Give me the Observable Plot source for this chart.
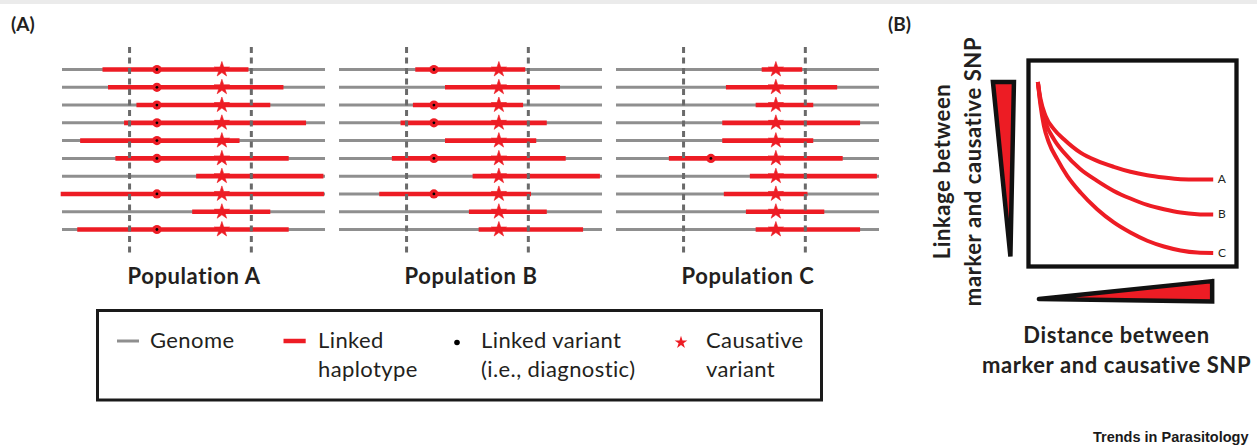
<!DOCTYPE html>
<html>
<head>
<meta charset="utf-8">
<script src="https://cdn.jsdelivr.net/npm/d3@7"></script>
<script src="https://cdn.jsdelivr.net/npm/@observablehq/plot@0.6"></script>
<style>
html, body { margin: 0; padding: 0; background: #fff; }
#fig { position: relative; width: 1257px; height: 446px; overflow: hidden; font-family: Lato, "Open Sans", sans-serif; color: #231f20; }
#topband { position: absolute; left: 0; top: 0; width: 1257px; height: 4px; background: #ebebeb; }
.panel { position: absolute; top: 0; }
#overlay { position: absolute; left: 0; top: 0; pointer-events: none; }
</style>
</head>
<body>
<div id="fig">
  <div id="topband"></div>
  <div id="panelA" class="panel" style="left:0px"></div>
  <div id="panelB" class="panel" style="left:880px"></div>
</div>
<script>
// ---------------- Panel A data (genome coordinate 0–100 per population) ----------------
const populations = ["A", "B", "C"];
const rowIds = [1, 2, 3, 4, 5, 6, 7, 8, 9, 10];
const genomeExtent = [0, 100];
const markerWindow = [25.5, 71.8];          // dashed lines
const linkedVariantPosition = 35.9;         // black-centred dot
const causativePosition = 60.6;             // star

const haplotypeStartA = [15.4, 17.5, 28.3, 23.6, 6.9, 20.3, 51.0, -0.5, 49.5, 5.8];
const haplotypeEndA   = [70.9, 84.2, 79.2, 92.8, 67.5, 86.2, 99.4, 99.6, 79.2, 86.2];
const linkedA         = [1, 1, 1, 1, 1, 1, 0, 1, 0, 1];

const haplotypeStartB = [29.0, 40.3, 28.1, 23.4, 40.3, 20.1, 50.8, 15.3, 49.4, 53.1];
const haplotypeEndB   = [70.8, 84.0, 70.0, 79.0, 75.0, 86.2, 99.2, 73.0, 79.0, 92.8];
const linkedB         = [1, 0, 1, 1, 0, 1, 0, 1, 0, 0];

const haplotypeStartC = [55.4, 41.8, 53.1, 40.4, 40.4, 20.1, 50.9, 41.0, 49.4, 53.1];
const haplotypeEndC   = [70.8, 84.1, 75.0, 92.8, 75.0, 86.2, 99.2, 72.8, 79.2, 92.8];
const linkedC         = [0, 0, 0, 0, 0, 1, 0, 0, 0, 0];

// ---------------- Panel B data (distance / linkage, 0–100 inside frame) ----------------
const curveNames = ["A", "B", "C"];
const distanceA = [4.5, 5.8, 8.2, 12.2, 17.0, 25.0, 33.0, 41.0, 49.0, 57.1, 65.1, 73.1, 81.1, 88.8];
const linkageA  = [89.6, 81.2, 73.1, 66.7, 61.8, 55.3, 51.3, 48.4, 46.0, 44.3, 43.2, 42.4, 42.2, 42.2];
const distanceB = [4.5, 5.8, 8.2, 12.2, 17.0, 25.0, 33.0, 41.0, 49.0, 57.1, 65.1, 73.1, 81.1, 88.8];
const linkageB  = [89.6, 79.6, 69.9, 61.8, 55.3, 47.2, 41.6, 36.7, 33.0, 29.9, 27.8, 26.2, 25.4, 25.2];
const distanceC = [4.5, 5.8, 7.4, 9.8, 13.8, 18.6, 25.0, 33.0, 41.0, 49.0, 57.1, 65.1, 73.1, 81.1, 88.8];
const linkageC  = [89.6, 78.0, 68.3, 60.2, 52.1, 44.0, 35.9, 27.8, 21.4, 16.5, 12.5, 9.7, 7.8, 6.8, 6.6];

const linkageWedgeX  = [-17.1, -7.0, -8.7, -17.1, -7.0];
const linkageWedgeY  = [89.6, 89.6, 4.9, 89.6, 89.6];
const distanceWedgeX = [5.0, 88.3, 88.3, 5.0, 88.3];
const distanceWedgeY = [-15.8, -7.1, -17.0, -15.8, -7.1];

// ---------------- Legend text ----------------
const legendLabels = [["Genome"], ["Linked", "haplotype"], ["Linked variant", "(i.e., diagnostic)"], ["Causative", "variant"]];

const RED = "#ed1c24", GREY = "#8f8f8f", DASH = "#6a6a6a", INK = "#231f20";

// ---------------- build tables ----------------
const starts = [haplotypeStartA, haplotypeStartB, haplotypeStartC];
const ends = [haplotypeEndA, haplotypeEndB, haplotypeEndC];
const linked = [linkedA, linkedB, linkedC];
const haplotypes = populations.flatMap((p, i) => rowIds.map((r, j) => ({
  pop: p, row: r, start: starts[i][j], end: ends[i][j], linked: linked[i][j]
})));

const curveDist = [distanceA, distanceB, distanceC];
const curveLink = [linkageA, linkageB, linkageC];
const curvePoints = curveNames.flatMap((c, i) => curveDist[i].map((d, j) => ({curve: c, distance: d, linkage: curveLink[i][j]})));
const linkageWedge = linkageWedgeX.map((x, i) => ({x, y: linkageWedgeY[i]}));
const distanceWedge = distanceWedgeX.map((x, i) => ({x, y: distanceWedgeY[i]}));

const baseStyle = {fontFamily: "Lato, 'Open Sans', sans-serif", color: INK, background: "transparent", overflow: "visible", letterSpacing: "0.6px"};

// ---------------- Panel A ----------------
const plotA = Plot.plot({
  width: 890, height: 300,
  marginLeft: 61, marginRight: 9, marginTop: 47, marginBottom: 47,
  style: baseStyle,
  x: {domain: [0, 100], axis: null},
  y: {domain: [1, 10], reverse: true, insetTop: 22, insetBottom: 24, axis: null},
  fx: {domain: populations, paddingInner: 0.05, paddingOuter: 0, axis: null},
  marks: [
    Plot.ruleY(haplotypes, {fx: "pop", y: "row", x1: () => genomeExtent[0], x2: () => genomeExtent[1], stroke: GREY, strokeWidth: 3}),
    Plot.ruleY(haplotypes, {fx: "pop", y: "row", x1: "start", x2: "end", stroke: RED, strokeWidth: 4.6}),
    Plot.ruleX(markerWindow, {x: d => d, stroke: DASH, strokeWidth: 3, strokeDasharray: "6,4.5"}),
    Plot.dot(haplotypes.filter(d => d.linked), {fx: "pop", x: () => linkedVariantPosition, y: "row", r: 4.6, fill: RED}),
    Plot.dot(haplotypes.filter(d => d.linked), {fx: "pop", x: () => linkedVariantPosition, y: "row", r: 1.4, fill: "#000"}),
    Plot.dot(haplotypes, {fx: "pop", x: () => causativePosition, y: "row", symbol: "star", r: 4.8, fill: RED, stroke: RED, strokeWidth: 0.6}),
    Plot.text(populations, {fx: d => d, text: d => "Population " + d, frameAnchor: "bottom", lineAnchor: "top", dy: 14.5, fontSize: 22, fontWeight: "bold", fill: INK})
  ]
});
document.getElementById("panelA").appendChild(plotA);

// ---------------- Panel B ----------------
const plotB = Plot.plot({
  width: 377, height: 400,
  marginLeft: 148, marginRight: 21, marginTop: 60, marginBottom: 134,
  style: baseStyle,
  x: {domain: [0, 100], axis: null},
  y: {domain: [0, 100], axis: null},
  marks: [
    Plot.line(linkageWedge, {x: "x", y: "y", fill: RED, stroke: "#111", strokeWidth: 4.5, strokeLinejoin: "miter", strokeMiterlimit: 4, curve: "linear"}),
    Plot.line(distanceWedge, {x: "x", y: "y", fill: RED, stroke: "#111", strokeWidth: 4.5, strokeLinejoin: "miter", strokeMiterlimit: 4, curve: "linear"}),
    Plot.line(curvePoints, {x: "distance", y: "linkage", z: "curve", stroke: RED, strokeWidth: 4, curve: "monotone-x", strokeLinecap: "butt"}),
    Plot.text(curvePoints, Plot.selectLast({x: "distance", y: "linkage", z: "curve", text: "curve", dx: 9, fontSize: 12, fill: INK})),
    Plot.frame({stroke: "#111", strokeWidth: 4.3}),
    Plot.text(["Linkage between\nmarker and causative SNP"], {text: d => d, frameAnchor: "left", textAnchor: "middle", rotate: -90, dx: -72.5, dy: 8, lineAnchor: "middle", lineHeight: 1.41, fontSize: 22, fontWeight: "bold", fill: INK}),
    Plot.text(["Distance between\nmarker and causative SNP"], {text: d => d, frameAnchor: "bottom", textAnchor: "middle", dx: -16, dy: 55, lineAnchor: "top", lineHeight: 1.38, fontSize: 22, fontWeight: "bold", fill: INK})
  ]
});
document.getElementById("panelB").appendChild(plotB);

// ---------------- Overlay: panel tags, legend, credit ----------------
const svg = d3.select("#fig").append("svg").attr("id", "overlay").attr("width", 1257).attr("height", 446)
  .style("font-family", "Lato, 'Open Sans', sans-serif");

svg.append("text").attr("x", 11).attr("y", 31).attr("font-size", 19).attr("font-weight", "bold").attr("fill", INK).text("(A)");
svg.append("text").attr("x", 888).attr("y", 31).attr("font-size", 19).attr("font-weight", "bold").attr("fill", INK).text("(B)");

const lg = svg.append("g");
lg.append("rect").attr("x", 97.5).attr("y", 310.5).attr("width", 724).attr("height", 89.5)
  .attr("fill", "none").attr("stroke", "#1a1a1a").attr("stroke-width", 3);
lg.append("line").attr("x1", 117).attr("x2", 139).attr("y1", 341).attr("y2", 341).attr("stroke", GREY).attr("stroke-width", 3);
lg.append("line").attr("x1", 283.5).attr("x2", 305.7).attr("y1", 341).attr("y2", 341).attr("stroke", RED).attr("stroke-width", 4.5);
lg.append("circle").attr("cx", 457).attr("cy", 342.5).attr("r", 2.8).attr("fill", "#000");
lg.append("path").attr("d", d3.symbol(d3.symbolStar, 50)()).attr("transform", "translate(681,342.5)").attr("fill", RED);
const textX = [150, 318, 481, 706];
legendLabels.forEach((lines, i) => {
  lines.forEach((t, j) => {
    lg.append("text").attr("x", textX[i]).attr("y", 348 + 29 * j).attr("font-size", 22).attr("letter-spacing", "0.4")
      .attr("fill", INK).text(t);
  });
});

svg.append("text").attr("x", 1093).attr("y", 442).attr("font-family", "'Liberation Sans', Arial, sans-serif")
  .attr("font-size", 14.5).attr("font-weight", "bold").attr("fill", "#1a1a1a").text("Trends in Parasitology");
</script>
</body>
</html>
